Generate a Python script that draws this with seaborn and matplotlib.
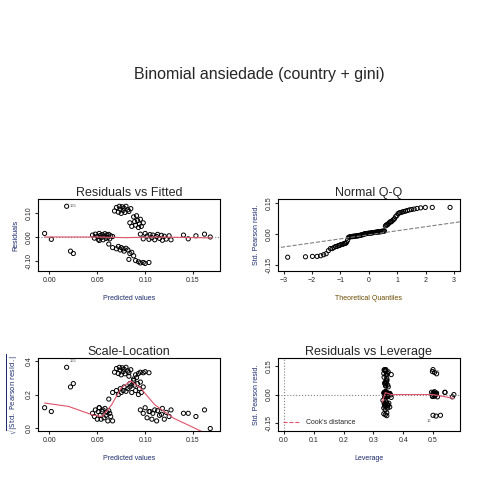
import numpy as np
import pandas as pd
import matplotlib
matplotlib.use("Agg")
import matplotlib.pyplot as plt
import seaborn as sns
from statistics import NormalDist

sns.set_style("white")
plt.rcParams['font.family'] = ['Liberation Sans', 'DejaVu Sans']

# fitted values and residuals, grouped as they appear in the picture
fitted = [0.045,0.047,0.048,0.050,0.051,0.052,0.053,0.054,0.055,0.056,0.057,0.058,0.059,0.060,0.061,0.062,0.063,0.064,0.066,0.052,
          0.068,0.070,0.072,0.073,0.074,0.075,0.076,0.077,0.078,0.079,0.080,0.082,0.083,0.085,
          0.084,0.086,0.088,0.089,0.090,0.091,0.092,0.093,0.094,0.095,0.096,0.098,
          0.062,0.066,0.070,0.072,0.074,0.075,0.077,0.078,0.080,0.082,0.084,0.086,0.088,0.083,
          0.090,0.093,0.095,0.098,0.100,0.104,
          0.095,0.098,0.100,0.102,0.104,0.105,0.107,0.108,0.110,0.112,0.113,0.115,0.117,0.118,0.120,0.122,0.125,0.127,
          0.140,0.145,0.153,0.162,0.168,
          -0.005,0.002,0.018,0.022,0.025]
resid = [0.008,-0.005,0.012,0.003,-0.010,0.015,0.006,-0.003,0.010,-0.012,0.004,0.014,-0.006,0.009,-0.002,0.011,-0.008,0.005,0.002,-0.015,
         0.110,0.125,0.105,0.130,0.118,0.100,0.128,0.112,0.122,0.104,0.130,0.115,0.108,0.120,
         0.060,0.045,0.085,0.065,0.050,0.090,0.070,0.040,0.055,0.075,0.045,0.060,
         -0.030,-0.045,-0.050,-0.040,-0.055,-0.045,-0.050,-0.060,-0.048,-0.055,-0.070,-0.065,-0.080,-0.095,
         -0.100,-0.105,-0.110,-0.108,-0.112,-0.108,
         0.012,-0.008,0.015,0.004,-0.010,0.010,-0.003,0.008,-0.012,0.002,0.011,-0.006,0.007,-0.014,0.003,-0.009,0.005,-0.012,
         0.008,-0.008,0.005,0.012,0.000,
         0.015,-0.010,0.130,-0.060,-0.070]
leverage = [0.335,0.340,0.345,0.350,0.338,0.342,0.355,0.347,0.336,0.344,0.352,0.339,0.346,0.341,0.358,0.337,0.349,0.343,0.353,0.360,
            0.335,0.340,0.345,0.338,0.350,0.342,0.336,0.347,0.341,0.360,0.500,0.505,0.512,0.498,
            0.338,0.342,0.345,0.340,0.348,0.336,0.344,0.350,0.339,0.346,0.341,0.343,
            0.332,0.336,0.340,0.344,0.348,0.352,0.338,0.342,0.346,0.350,0.335,0.355,0.340,0.345,
            0.335,0.340,0.345,0.500,0.510,0.525,
            0.495,0.500,0.505,0.510,0.498,0.503,0.508,0.512,0.515,0.502,0.540,0.506,0.340,0.345,0.350,0.338,0.355,0.565,
            0.500,0.505,0.510,0.540,0.570,
            0.340,0.345,0.342,0.338,0.348]

# smoother / reference lines
fit_smooth_x = [-0.005, 0.05, 0.08, 0.11, 0.17]
fit_smooth_y = [0.0, 0.0, -0.003, 0.0, -0.004]
sl_smooth_x = [-0.005, 0.02, 0.045, 0.055, 0.065, 0.075, 0.085, 0.095, 0.11, 0.13, 0.16]
sl_smooth_y = [0.15, 0.13, 0.08, 0.07, 0.14, 0.24, 0.28, 0.24, 0.14, 0.06, -0.02]
lev_smooth_x = [0.33, 0.34, 0.36, 0.43, 0.5, 0.57]
lev_smooth_y = [-0.04, 0.01, 0.0, 0.0, 0.0, -0.02]
qq_line_x = [-3.3, 3.3]
qq_line_y = [-0.068, 0.062]

df = pd.DataFrame({"fitted": fitted, "resid": resid, "lev": leverage})
df["sl"] = np.sqrt(np.abs(df["resid"]))
qq_y = np.sort(df["resid"].values)
n = len(qq_y)
qq_x = np.array([NormalDist().inv_cdf((i + 0.2) / (n - 0.6)) for i in range(n)])

fig = plt.figure(figsize=(4.8, 4.8), dpi=100)
fig.text(0.54, 0.835, "Binomial ansiedade (country + gini)", ha="center", fontsize=11.5)

boxes = [[0.079, 0.435, 0.379, 0.15], [0.579, 0.435, 0.379, 0.15],
         [0.079, 0.102, 0.379, 0.152], [0.579, 0.102, 0.379, 0.152]]
axs = [fig.add_axes(b) for b in boxes]
lab = "#1a2a6c"
pt = dict(facecolor="none", edgecolor="black", s=9, linewidth=0.7, marker="o")

def style(ax, title, xl, yl):
    ax.set_title(title, fontsize=9, pad=2)
    ax.set_xlabel(xl, fontsize=5, color=lab, labelpad=8)
    ax.set_ylabel(yl, fontsize=5, color=lab, labelpad=4)
    ax.tick_params(labelsize=5, length=2, left=True, bottom=True, pad=2)
    for t in ax.get_yticklabels():
        t.set_rotation(90); t.set_va("center")
    for s in ax.spines.values():
        s.set_color("black"); s.set_linewidth(0.8)

ax = axs[0]
sns.scatterplot(data=df, x="fitted", y="resid", ax=ax, **pt)
ax.axhline(0, color="gray", ls=":", lw=0.8)
ax.plot(fit_smooth_x, fit_smooth_y, color="#df536b", lw=0.8)
ax.text(0.021, 0.127, "165", fontsize=3, color="#555")
ax.set_xlim(-0.012, 0.178); ax.set_ylim(-0.145, 0.16)
ax.set_xticks([0.0, 0.05, 0.10, 0.15]); ax.set_xticklabels(["0.00", "0.05", "0.10", "0.15"])
ax.set_yticks([-0.10, 0.0, 0.10]); ax.set_yticklabels(["-0.10", "0.00", "0.10"])
style(ax, "Residuals vs Fitted", "Predicted values", "Residuals")

ax = axs[1]
sns.scatterplot(x=qq_x, y=qq_y, ax=ax, **pt)
ax.plot(qq_line_x, qq_line_y, color="gray", ls="--", lw=0.8)
ax.set_xlim(-3.2, 3.2); ax.set_ylim(-0.18, 0.17)
ax.set_xticks([-3, -2, -1, 0, 1, 2, 3])
ax.set_yticks([-0.15, 0.0, 0.15]); ax.set_yticklabels(["-0.15", "0.00", "0.15"])
style(ax, "Normal Q-Q", "Theoretical Quantiles", "Std. Pearson resid.")
ax.xaxis.label.set_color("#6b4a00")

ax = axs[2]
sns.scatterplot(data=df, x="fitted", y="sl", ax=ax, **pt)
ax.plot(sl_smooth_x, sl_smooth_y, color="#df536b", lw=0.8)
ax.text(0.021, 0.39, "165", fontsize=3, color="#555")
ax.set_xlim(-0.012, 0.178); ax.set_ylim(-0.015, 0.415)
ax.set_xticks([0.0, 0.05, 0.10, 0.15]); ax.set_xticklabels(["0.00", "0.05", "0.10", "0.15"])
ax.set_yticks([0.0, 0.2, 0.4]); ax.set_yticklabels(["0.0", "0.2", "0.4"])
style(ax, "Scale-Location", "Predicted values", r"$\sqrt{|\mathrm{Std.\ Pearson\ resid.}|}$")

ax = axs[3]
sns.scatterplot(data=df, x="lev", y="resid", ax=ax, **pt)
ax.axhline(0, color="gray", ls=":", lw=0.8)
ax.axvline(0, color="gray", ls=":", lw=0.8)
ax.plot(lev_smooth_x, lev_smooth_y, color="#df536b", lw=0.8)
ax.plot([], [], color="#df536b", ls="--", lw=0.8, label="Cook's distance")
ax.legend(loc="lower left", fontsize=5, frameon=False, handlelength=2.5, borderaxespad=0.3)
ax.text(0.51, 0.11, "16", fontsize=3, color="#555")
ax.text(0.48, -0.145, "16", fontsize=3, color="#555")
ax.set_xlim(-0.02, 0.59); ax.set_ylim(-0.19, 0.19)
ax.set_xticks([0.0, 0.1, 0.2, 0.3, 0.4, 0.5])
ax.set_yticks([-0.15, 0.0, 0.15]); ax.set_yticklabels(["-0.15", "0.00", "0.15"])
style(ax, "Residuals vs Leverage", "Leverage", "Std. Pearson resid.")

fig.savefig("out.png", dpi=100)
